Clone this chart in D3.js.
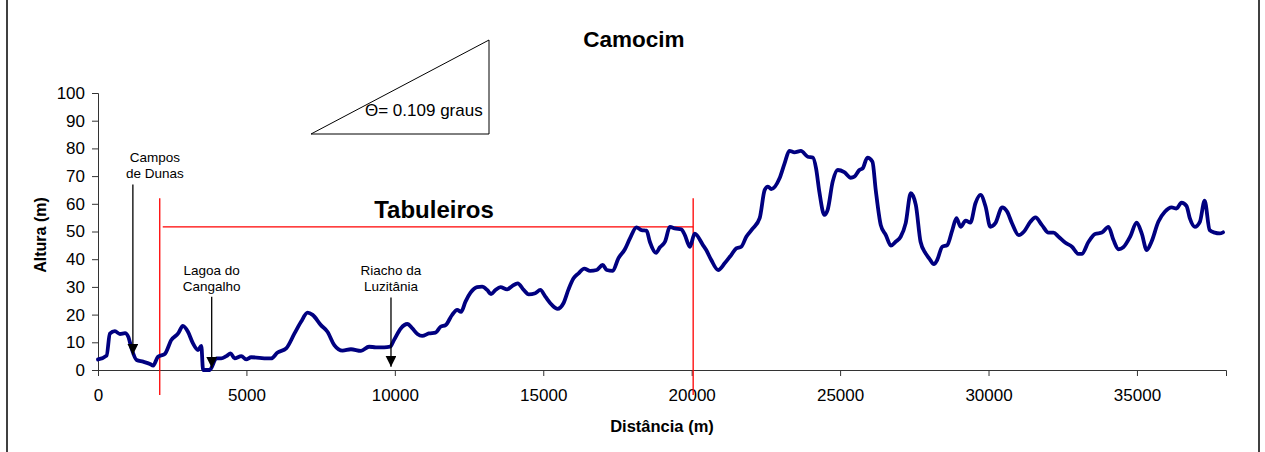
<!DOCTYPE html>
<html>
<head>
<meta charset="utf-8">
<title>Camocim</title>
<script src="https://d3js.org/d3.v7.min.js"></script>
<style>
  body { margin: 0; background: #fff; }
  text { font-family: "Liberation Sans", Arial, sans-serif; }
</style>
</head>
<body>
<script>

// profile: distance (m) and height (m)
var distancia = [0, 290, 400, 570, 740, 910, 1020, 1130, 1300, 1520, 1750, 1860, 2020, 2250, 2470, 2700, 2860, 3030, 3200, 3370, 3480, 3540, 3760, 3990, 4150, 4320, 4470, 4600, 4830, 4990, 5160, 5720, 5830, 6050, 6340, 6620, 6840, 7060, 7230, 7510, 7730, 7960, 8240, 8520, 8860, 9130, 9360, 9640,
  9840, 9970, 10200, 10420, 10590, 10760, 10920, 11150, 11370, 11540, 11710, 11930, 12100, 12230, 12380, 12550, 12770, 12940, 13110, 13240, 13390, 13560, 13780, 13950, 14140, 14340, 14510, 14730, 14900, 15070, 15290, 15480, 15680, 15850, 16020, 16190, 16380, 16580, 16800, 17000, 17140, 17340, 17530, 17750, 17920, 18140, 18310, 18480, 18590, 18800, 18930, 19100, 19270, 19430, 19650, 19770, 19940, 20100,
  20380, 20490, 20660, 20890, 21110, 21330, 21500, 21670, 21840, 22060, 22290, 22460, 22570, 22680, 22960, 23130, 23290, 23460, 23680, 23910, 24080, 24190, 24300, 24470, 24580, 24750, 24920, 25140, 25360, 25480, 25650, 25760, 25920, 26090, 26200, 26370, 26540, 26710, 26870, 27040, 27210, 27380, 27550, 27710, 27880, 28000, 28160, 28270, 28440, 28610, 28780, 28920, 29060, 29230,
  29390, 29560, 29730, 29900, 30060, 30230, 30460, 30630, 30790, 31020, 31190, 31410, 31580, 31800, 32020, 32190, 32360, 32580, 32810, 33030, 33140, 33370, 33590, 33820, 34040, 34210, 34380, 34540, 34770, 34990, 35160, 35330, 35490, 35720, 35940, 36170, 36330, 36500, 36670, 36780, 36950, 37120, 37280, 37450, 37620, 37790, 37900];

var altura = [3.8, 5.2, 13.1, 14, 13, 13.3, 12, 7.8, 3.6, 3, 2.2, 1.6, 4.8, 5.8, 10.8, 13.2, 15.9, 13.8, 9.6, 7.2, 8.7, 0, 0, 4.2, 4.2, 5, 6, 4.2, 5, 3.8, 4.6, 4.2, 4.2, 6.3, 7.8, 13.2, 17.4, 20.7, 19.9, 16.2, 13.8, 9, 7, 7.5, 6.9, 8.4, 8.2, 8.2,
  8.4, 10.8, 15, 16.6, 15, 13, 12.3, 13.2, 13.5, 15.6, 16.2, 19.9, 21.7, 21, 24.7, 27.9, 29.9, 30.1, 28.9, 27.4, 28.9, 29.9, 29.1, 30.3, 31.3, 28.9, 27.3, 27.7, 28.9, 26.5, 23.5, 22.1, 24.1, 29.1, 33.1, 34.9, 36.6, 35.8, 36.1, 37.9, 36.1, 35.8, 40.3, 43.6, 47.5, 51.5, 50.5, 50.3, 46.3, 42.3, 44.3, 46.3, 51.7, 51.1, 50.8, 48.7, 44.5, 49.2,
  45.1, 43.3, 39.7, 36.1, 38.5, 41.5, 43.9, 44.5, 48.1, 51.1, 54.8, 65, 66.2, 65.3, 69.2, 74.6, 79.1, 78.6, 79.1, 77, 76.7, 72.8, 64.4, 56, 57.8, 68, 72.2, 71.4, 69.4, 69.8, 72.2, 72.8, 76.7, 75.2, 65, 52.3, 48.7, 44.9, 46.3, 48.1, 53, 63.8, 59.6, 46.3, 42.1, 40.3, 38.2, 39.7, 44.5, 45.1, 50.5, 54.8, 51.7, 53.9,
  53.2, 60.2, 63.2, 59, 51.7, 53, 58.7, 57.1, 53, 48.7, 49.9, 53.5, 55.1, 52.3, 49.6, 49.6, 48.1, 46, 44.5, 41.9, 41.9, 46.3, 49.1, 49.6, 51.7, 46.9, 43.6, 44.3, 48.1, 53.2, 49.3, 43.3, 46.3, 53.5, 57.1, 58.7, 58.3, 60.4, 59.2, 54.8, 51.7, 53.5, 61.1, 50.5, 49.6, 49.3, 49.7];

var xTicks = [0, 5000, 10000, 15000, 20000, 25000, 30000, 35000];
var yTicks = [0, 10, 20, 30, 40, 50, 60, 70, 80, 90, 100];

// arrows: label lines, distance of arrow, top / tip heights
var setas = [
  { linhas: ["Campos", "de Dunas"], d: 1175, topo: 67, ponta: 5.5, dx: 22 },
  { linhas: ["Lagoa do", "Cangalho"], d: 3830, topo: 26.4, ponta: 0.8, dx: 0 },
  { linhas: ["Riacho da", "Luzitânia"], d: 9870, topo: 26.2, ponta: 1.2, dx: 0 }
];

// Tabuleiros band
var tabIni = 2080, tabFim = 20050, tabAltura = 51.7;

var margin = { top: 93, right: 39, bottom: 82, left: 98 },
    W = 1265, H = 452,
    width = W - margin.left - margin.right,
    height = H - margin.top - margin.bottom;

var x = d3.scaleLinear().domain([0, 38000]).range([0, width]);
var y = d3.scaleLinear().domain([0, 100]).range([height, 0]);

var svg = d3.select("body").append("svg")
    .attr("width", W)
    .attr("height", H);

// chart frame (left and right sides visible)
svg.append("line").attr("x1", 7).attr("x2", 7).attr("y1", 0).attr("y2", H)
    .attr("stroke", "#000").attr("stroke-width", 1.5);
svg.append("line").attr("x1", 1259).attr("x2", 1259).attr("y1", 0).attr("y2", H)
    .attr("stroke", "#000").attr("stroke-width", 1.5);

svg.append("text")
    .attr("x", 634).attr("y", 47)
    .attr("text-anchor", "middle")
    .style("font-size", "22.5px").style("font-weight", "bold")
    .text("Camocim");

var g = svg.append("g")
    .attr("transform", "translate(" + margin.left + "," + margin.top + ")");

var xAxis = d3.axisBottom(x).tickValues(xTicks).tickSize(6).tickPadding(13).tickFormat(d3.format("d"));
var yAxis = d3.axisLeft(y).tickValues(yTicks).tickSize(6).tickPadding(7);

var gx = g.append("g")
    .attr("transform", "translate(0," + height + ")")
    .call(xAxis);
var gy = g.append("g").call(yAxis);

[gx, gy].forEach(function (a) {
    a.select(".domain").attr("stroke", "#333");
    a.selectAll(".tick line").attr("stroke", "#333");
    a.selectAll(".tick text")
        .style("font-size", "17px")
        .style("font-family", "'Liberation Sans', Arial, sans-serif")
        .attr("fill", "#000");
});

g.append("text")
    .attr("transform", "translate(-52,142) rotate(-90)")
    .attr("text-anchor", "middle")
    .style("font-size", "16px").style("font-weight", "bold")
    .text("Altura (m)");

g.append("text")
    .attr("x", 564).attr("y", height + 62)
    .attr("text-anchor", "middle")
    .style("font-size", "16.5px").style("font-weight", "bold")
    .text("Distância (m)");

// slope triangle
var tri = [[311, 134], [489, 40], [489, 134]];
svg.append("path")
    .attr("d", d3.line()(tri) + "Z")
    .attr("fill", "none").attr("stroke", "#000").attr("stroke-width", 1);
svg.append("text")
    .attr("x", 365).attr("y", 116)
    .style("font-size", "17px")
    .text("\u0398= 0.109 graus");

// Tabuleiros red lines
var red = "#ff0000";
g.append("line")
    .attr("x1", x(tabIni)).attr("x2", x(tabIni))
    .attr("y1", y(62)).attr("y2", y(-9))
    .attr("stroke", red).attr("stroke-width", 1.3);
g.append("line")
    .attr("x1", x(tabFim)).attr("x2", x(tabFim))
    .attr("y1", y(62)).attr("y2", y(-9))
    .attr("stroke", red).attr("stroke-width", 1.3);
g.append("line")
    .attr("x1", x(tabIni) + 3).attr("x2", x(tabFim))
    .attr("y1", y(tabAltura)).attr("y2", y(tabAltura))
    .attr("stroke", red).attr("stroke-width", 1.3);
g.append("text")
    .attr("x", x(11320)).attr("y", y(tabAltura) - 9)
    .attr("text-anchor", "middle")
    .style("font-size", "24px").style("font-weight", "bold")
    .text("Tabuleiros");

// profile line
var pts = distancia.map(function (d, i) { return [d, altura[i]]; });
g.append("path")
    .datum(pts)
    .attr("fill", "none")
    .attr("stroke", "#000080")
    .attr("stroke-width", 3.8)
    .attr("stroke-linejoin", "round")
    .attr("stroke-linecap", "round")
    .attr("d", d3.line()
        .x(function (d) { return x(d[0]); })
        .y(function (d) { return y(d[1]); })
        .curve(d3.curveMonotoneX));

// arrows with labels
svg.append("defs").append("marker")
    .attr("id", "seta")
    .attr("viewBox", "0 0 10 10")
    .attr("refX", 10).attr("refY", 5)
    .attr("markerWidth", 11).attr("markerHeight", 11)
    .attr("markerUnits", "userSpaceOnUse")
    .attr("orient", "auto")
    .append("path").attr("d", "M0,0 L10,5 L0,10 Z").attr("fill", "#000");

setas.forEach(function (s) {
    var ax = x(s.d);
    g.append("line")
        .attr("x1", ax).attr("x2", ax)
        .attr("y1", y(s.topo)).attr("y2", y(s.ponta))
        .attr("stroke", "#000").attr("stroke-width", 1.3)
        .attr("marker-end", "url(#seta)");
    var t = g.append("text")
        .attr("text-anchor", "middle")
        .style("font-size", "13.5px");
    s.linhas.forEach(function (l, i) {
        t.append("tspan")
            .attr("x", ax + s.dx)
            .attr("y", y(s.topo) - 22 + i * 16)
            .text(l);
    });
});

</script>
</body>
</html>
